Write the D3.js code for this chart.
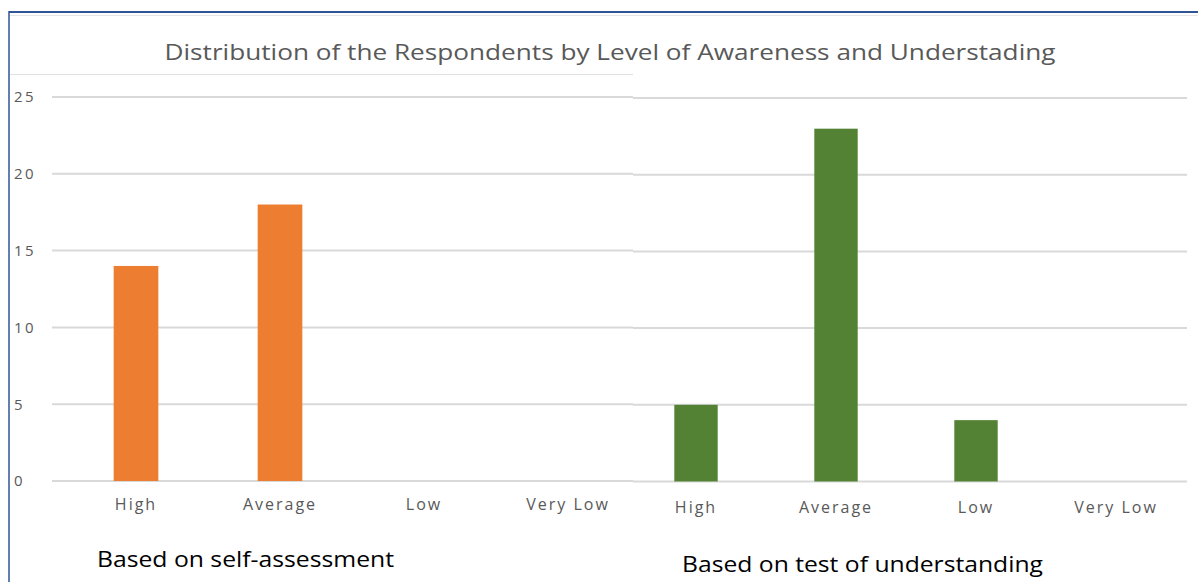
<!DOCTYPE html>
<html>
<head>
<meta charset="utf-8">
<script src="https://cdn.jsdelivr.net/npm/d3@7"></script>
<style>
  body { margin: 0; background: #fff; }
  svg { display: block; font-family: "Open Sans", "Noto Sans", sans-serif; }
</style>
</head>
<body>
<svg width="1198" height="582"></svg>
<script>
// ************** Data *****************
const categories = ["High", "Average", "Low", "Very Low"];
const selfValues = [14, 18, 0, 0];      // based on self-assessment
const testValues = [5, 23, 4, 0];       // based on test of understanding
const yTicks = [0, 5, 10, 15, 20, 25];
const chartTitle = "Distribution of the Respondents by Level of Awareness and Understading";
const panelTitles = ["Based on self-assessment", "Based on test of understanding"];

// *************** Setup *****************
let svg = d3.select("svg");

// sheet-like frame
svg.append("line").attr("x1", 9).attr("x2", 1198).attr("y1", 15.5).attr("y2", 15.5)
    .attr("stroke", "#e4e4e4").attr("stroke-width", 1);
svg.append("line").attr("x1", 9).attr("x2", 1198).attr("y1", 12).attr("y2", 12)
    .attr("stroke", "#2f5597").attr("stroke-width", 2);
svg.append("line").attr("x1", 9).attr("x2", 9).attr("y1", 11).attr("y2", 582)
    .attr("stroke", "#2f5597").attr("stroke-width", 1.5);
svg.append("line").attr("x1", 10).attr("x2", 633).attr("y1", 74.5).attr("y2", 74.5)
    .attr("stroke", "#e2e2e2").attr("stroke-width", 1);

svg.append("text")
    .attr("x", 610).attr("y", 60)
    .attr("text-anchor", "middle")
    .attr("font-size", 22)
    .attr("fill", "#595959")
    .attr("textLength", 891).attr("lengthAdjust", "spacingAndGlyphs")
    .text(chartTitle);

// one panel per assessment
function drawPanel(opts) {
    let yScale = d3.scaleLinear()
        .domain([0, 25])
        .range([opts.y0, opts.y25]);

    let xScale = d3.scaleBand()
        .domain(categories)
        .range(opts.xRange)
        .padding(0);

    let g = svg.append("g");

    // gridlines
    g.selectAll(".grid")
        .data(yTicks)
        .enter().append("line")
        .attr("x1", opts.gridX[0]).attr("x2", opts.gridX[1])
        .attr("y1", d => yScale(d)).attr("y2", d => yScale(d))
        .attr("stroke", "#d9d9d9").attr("stroke-width", 2);

    if (opts.showY) {
        let yAxis = g.append("g")
            .attr("transform", "translate(14,0)")
            .call(d3.axisRight(yScale).tickValues(yTicks).tickSize(0).tickPadding(0));
        yAxis.select(".domain").remove();
        yAxis.selectAll("text")
            .attr("font-family", "Open Sans, sans-serif")
            .attr("font-size", 15)
            .attr("letter-spacing", "2.5px")
            .attr("fill", "#595959")
            .attr("text-anchor", "start");
    }

    let bw = xScale.bandwidth();
    let barW = bw * 0.31;

    g.selectAll(".bar")
        .data(opts.values)
        .enter().append("rect")
        .attr("class", "bar")
        .attr("x", (d, i) => xScale(categories[i]) + (bw - barW) / 2)
        .attr("y", d => yScale(d))
        .attr("width", barW)
        .attr("height", d => yScale(0) - yScale(d))
        .attr("fill", opts.color);

    let xAxis = g.append("g")
        .attr("transform", "translate(0," + opts.labelY + ")")
        .call(d3.axisBottom(xScale).tickSize(0).tickPadding(0));
    xAxis.select(".domain").remove();
    xAxis.selectAll("text")
        .attr("font-family", "Open Sans, sans-serif")
        .attr("font-size", 16)
        .attr("fill", "#595959")
        .attr("letter-spacing", "2px");

    svg.append("text")
        .attr("x", opts.subX).attr("y", opts.subY)
        .attr("font-family", "Open Sans, sans-serif")
        .attr("font-size", 22)
        .attr("fill", "#000")
        .attr("textLength", opts.subW).attr("lengthAdjust", "spacingAndGlyphs")
        .text(opts.subtitle);
}

drawPanel({
    values: selfValues, color: "#ed7d31",
    y0: 481, y25: 97, xRange: [64, 640], gridX: [52, 633],
    showY: true, labelY: 499,
    subtitle: panelTitles[0], subX: 97, subY: 567, subW: 297
});

drawPanel({
    values: testValues, color: "#548235",
    y0: 481.5, y25: 98, xRange: [626, 1186], gridX: [633, 1187],
    showY: false, labelY: 502,
    subtitle: panelTitles[1], subX: 682, subY: 572, subW: 361
});
</script>
</body>
</html>
